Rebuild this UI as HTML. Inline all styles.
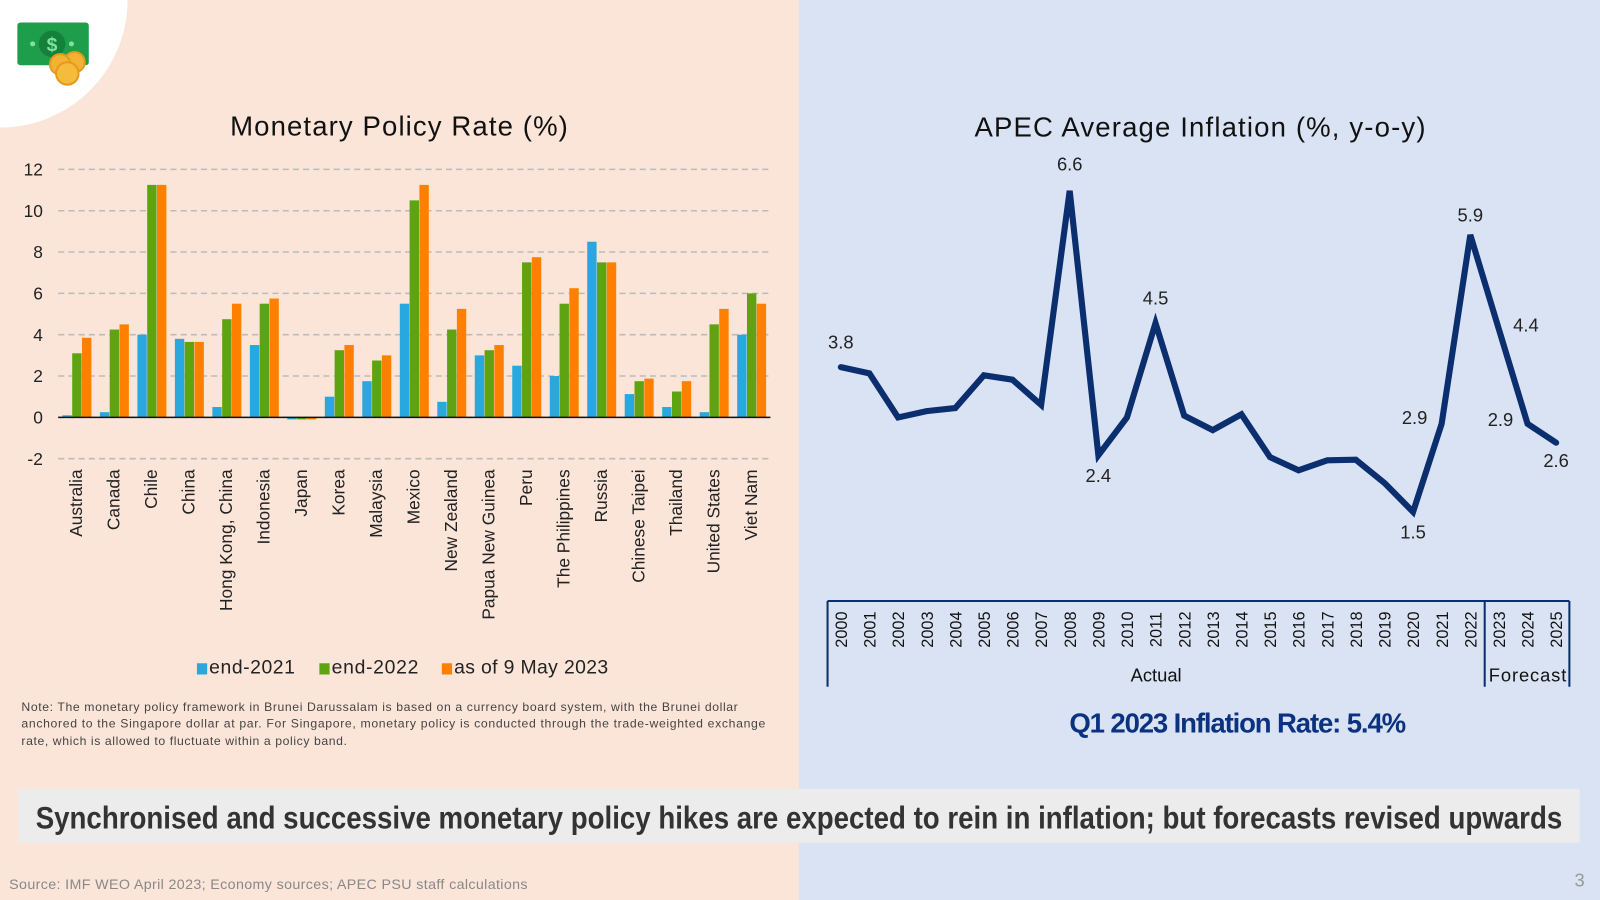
<!DOCTYPE html>
<html><head><meta charset="utf-8"><style>
html,body{margin:0;padding:0;width:1600px;height:900px;overflow:hidden;background:#fbe5d9}
svg{display:block;font-family:"Liberation Sans",sans-serif}
</style></head><body>
<svg id="s" width="1600" height="900" viewBox="0 0 1568 882" preserveAspectRatio="none" xmlns="http://www.w3.org/2000/svg">
<rect x="0" y="0" width="783" height="882" fill="#fbe5d9"/>
<rect x="783" y="0" width="785" height="882" fill="#dae3f3"/>
<path d="M0 0 H125 A125 125 0 0 1 0 125 Z" fill="#ffffff"/>
<g>
<rect x="17" y="22" width="70" height="42" rx="3" fill="#1e9e4a"/>
<circle cx="51" cy="43" r="13" fill="#15803a"/>
<text x="51" y="50" font-size="19" font-weight="bold" fill="#7fe0a0" text-anchor="middle">$</text>
<circle cx="32" cy="43" r="2.5" fill="#7fe0a0"/><circle cx="70" cy="43" r="2.5" fill="#7fe0a0"/>
<circle cx="73" cy="61" r="10" fill="#f2b233" stroke="#e59a1c" stroke-width="2"/>
<circle cx="59" cy="63" r="10" fill="#f2b233" stroke="#e59a1c" stroke-width="2"/>
<circle cx="66" cy="72" r="11" fill="#f5bb3d" stroke="#e59a1c" stroke-width="2"/>
</g>
<text x="391" y="133" font-size="27" text-anchor="middle" fill="#111" textLength="331">Monetary Policy Rate (%)</text>
<text x="1176" y="134" font-size="27" text-anchor="middle" fill="#111" textLength="442">APEC Average Inflation (%, y-o-y)</text>
<g id="bars"></g>
<g>
<rect x="193" y="650" width="10" height="11" fill="#29a8e0"/><text x="205" y="660" font-size="19" fill="#222" textLength="84">end-2021</text>
<rect x="313" y="650" width="10" height="11" fill="#5ea311"/><text x="325" y="660" font-size="19" fill="#222" textLength="85">end-2022</text>
<rect x="433" y="650" width="10" height="11" fill="#ff8000"/><text x="445" y="660" font-size="19" fill="#222" textLength="151">as of 9 May 2023</text>
</g>
<g font-size="12" fill="#444">
<text x="21" y="697" textLength="702">Note: The monetary policy framework in Brunei Darussalam is based on a currency board system, with the Brunei dollar</text>
<text x="21" y="713" textLength="729">anchored to the Singapore dollar at par. For Singapore, monetary policy is conducted through the trade-weighted exchange</text>
<text x="21" y="730" textLength="319">rate, which is allowed to fluctuate within a policy band.</text>
</g>
<g id="line"></g>
<text x="1213" y="718" font-size="27" font-weight="bold" fill="#0b3280" text-anchor="middle" textLength="330">Q1 2023 Inflation Rate: 5.4%</text>
<rect x="18" y="773" width="1530" height="53" fill="#ececec"/>
<text x="783" y="812" font-size="31" font-weight="bold" fill="#333" text-anchor="middle" textLength="1496" lengthAdjust="spacingAndGlyphs">Synchronised and successive monetary policy hikes are expected to rein in inflation; but forecasts revised upwards</text>
<text x="9" y="871" font-size="14" fill="#888" textLength="508">Source: IMF WEO April 2023; Economy sources; APEC PSU staff calculations</text>
<text x="1548" y="869" font-size="18" fill="#999" text-anchor="middle">3</text>
</svg>
<script>
const NS="http://www.w3.org/2000/svg";
const barCats=["Australia","Canada","Chile","China","Hong Kong, China","Indonesia","Japan","Korea","Malaysia","Mexico","New Zealand","Papua New Guinea","Peru","The Philippines","Russia","Chinese Taipei","Thailand","United States","Viet Nam"];
const end2021=[0.1,0.25,4.0,3.8,0.5,3.5,-0.1,1.0,1.75,5.5,0.75,3.0,2.5,2.0,8.5,1.125,0.5,0.25,4.0];
const end2022=[3.1,4.25,11.25,3.65,4.75,5.5,-0.1,3.25,2.75,10.5,4.25,3.25,7.5,5.5,7.5,1.75,1.25,4.5,6.0];
const may2023=[3.85,4.5,11.25,3.65,5.5,5.75,-0.1,3.5,3.0,11.25,5.25,3.5,7.75,6.25,7.5,1.875,1.75,5.25,5.5];
const barTicks=[12,10,8,6,4,2,0,-2];
const years=["2000","2001","2002","2003","2004","2005","2006","2007","2008","2009","2010","2011","2012","2013","2014","2015","2016","2017","2018","2019","2020","2021","2022","2023","2024","2025"];
const inflation=[3.8,3.7,3.0,3.1,3.15,3.67,3.6,3.2,6.6,2.4,3.0,4.5,3.03,2.8,3.05,2.37,2.16,2.32,2.33,1.96,1.5,2.9,5.9,4.4,2.9,2.6];
const inflLabels=[["3.8",0,-18,"middle"],["6.6",8,-20,"middle"],["2.4",9,26,"middle"],["4.5",11,-18,"middle"],["1.5",20,26,"middle"],["2.9",21,0,"end"],["5.9",22,-13,"middle"],["4.4",23,2,"start"],["2.9",24,2,"end"],["2.6",25,24,"middle"]];
function mk(t,a,p,txt){const e=document.createElementNS(NS,t);for(const k in a)e.setAttribute(k,a[k]);if(txt!==undefined)e.textContent=txt;p.appendChild(e);return e;}
const bg=document.getElementById('bars');
const by=v=>409-v*20.25;
const bx0=57,bx1=755,step=(bx1-bx0)/barCats.length;
barTicks.forEach(t=>{
 const l=mk('line',{x1:bx0,x2:bx1,y1:by(t),y2:by(t),stroke:'#bbb','stroke-width':1.5,'stroke-dasharray':'6 4'},bg);
 
 
 const tx=mk('text',{x:42,y:by(t)+6,'font-size':17,fill:'#222','text-anchor':'end'},bg,String(t));
 
 
});
const series=[[end2021,'#29a8e0'],[end2022,'#5ea311'],[may2023,'#ff8000']];
const bw=9.2;
barCats.forEach((c,i)=>{
 const cx=bx0+step*(i+0.5);
 series.forEach((s,j)=>{
  const v=s[0][i];const x=cx+(j-1.5)*(bw+0.4)+0.2;
  const y=Math.min(by(v),by(0)),h=Math.max(Math.abs(by(v)-by(0)),0.8);
  const r=mk('rect',{x:x,y:y,width:bw,height:h,fill:s[1]},bg);
  
  
 });
 const t=mk('text',{x:0,y:0,'font-size':17,fill:'#222','text-anchor':'end',transform:`translate(${cx+5},460) rotate(-90)`},bg,c);
 
 
});
const ax=mk('line',{x1:bx0,x2:bx1,y1:by(0),y2:by(0),stroke:'#111','stroke-width':1.5},bg);


const lg=document.getElementById('line');
const lx=i=>824+i*(1525-824)/(years.length-1);
const ly=v=>187+(6.6-v)*61.7;
let d='';inflation.forEach((v,i)=>{d+=(i?'L':'M')+lx(i).toFixed(1)+' '+ly(v).toFixed(1);});
const p=mk('path',{d:d,fill:'none',stroke:'#0b2e6e','stroke-width':6,'stroke-linejoin':'miter','stroke-linecap':'round'},lg);


inflLabels.forEach(L=>{
 const i=L[1];const t=mk('text',{x:lx(i)+(L[3]==='end'?-14:L[3]==='start'?14:0),y:ly(inflation[i])+L[2],'font-size':18,fill:'#222','text-anchor':L[3]},lg,L[0]);
 
 
});
const axc='#0b2e6e';
[[811,589,1538,589],[811,589,811,673],[1455,589,1455,673],[1538,589,1538,673]].forEach(a=>{
 const l=mk('line',{x1:a[0],y1:a[1],x2:a[2],y2:a[3],stroke:axc,'stroke-width':2},lg);
 
 
});
years.forEach((y,i)=>{
 const t=mk('text',{x:0,y:0,'font-size':16,fill:'#111','text-anchor':'middle',transform:`translate(${lx(i)+6},617) rotate(-90)`},lg,y);
 
 
});
const a1=mk('text',{x:1133,y:668,'font-size':18,fill:'#111','text-anchor':'middle'},lg,'Actual');


const a2=mk('text',{x:1497,y:668,'font-size':18,fill:'#111','text-anchor':'middle',textLength:76},lg,'Forecast');


</script>
</body></html>
